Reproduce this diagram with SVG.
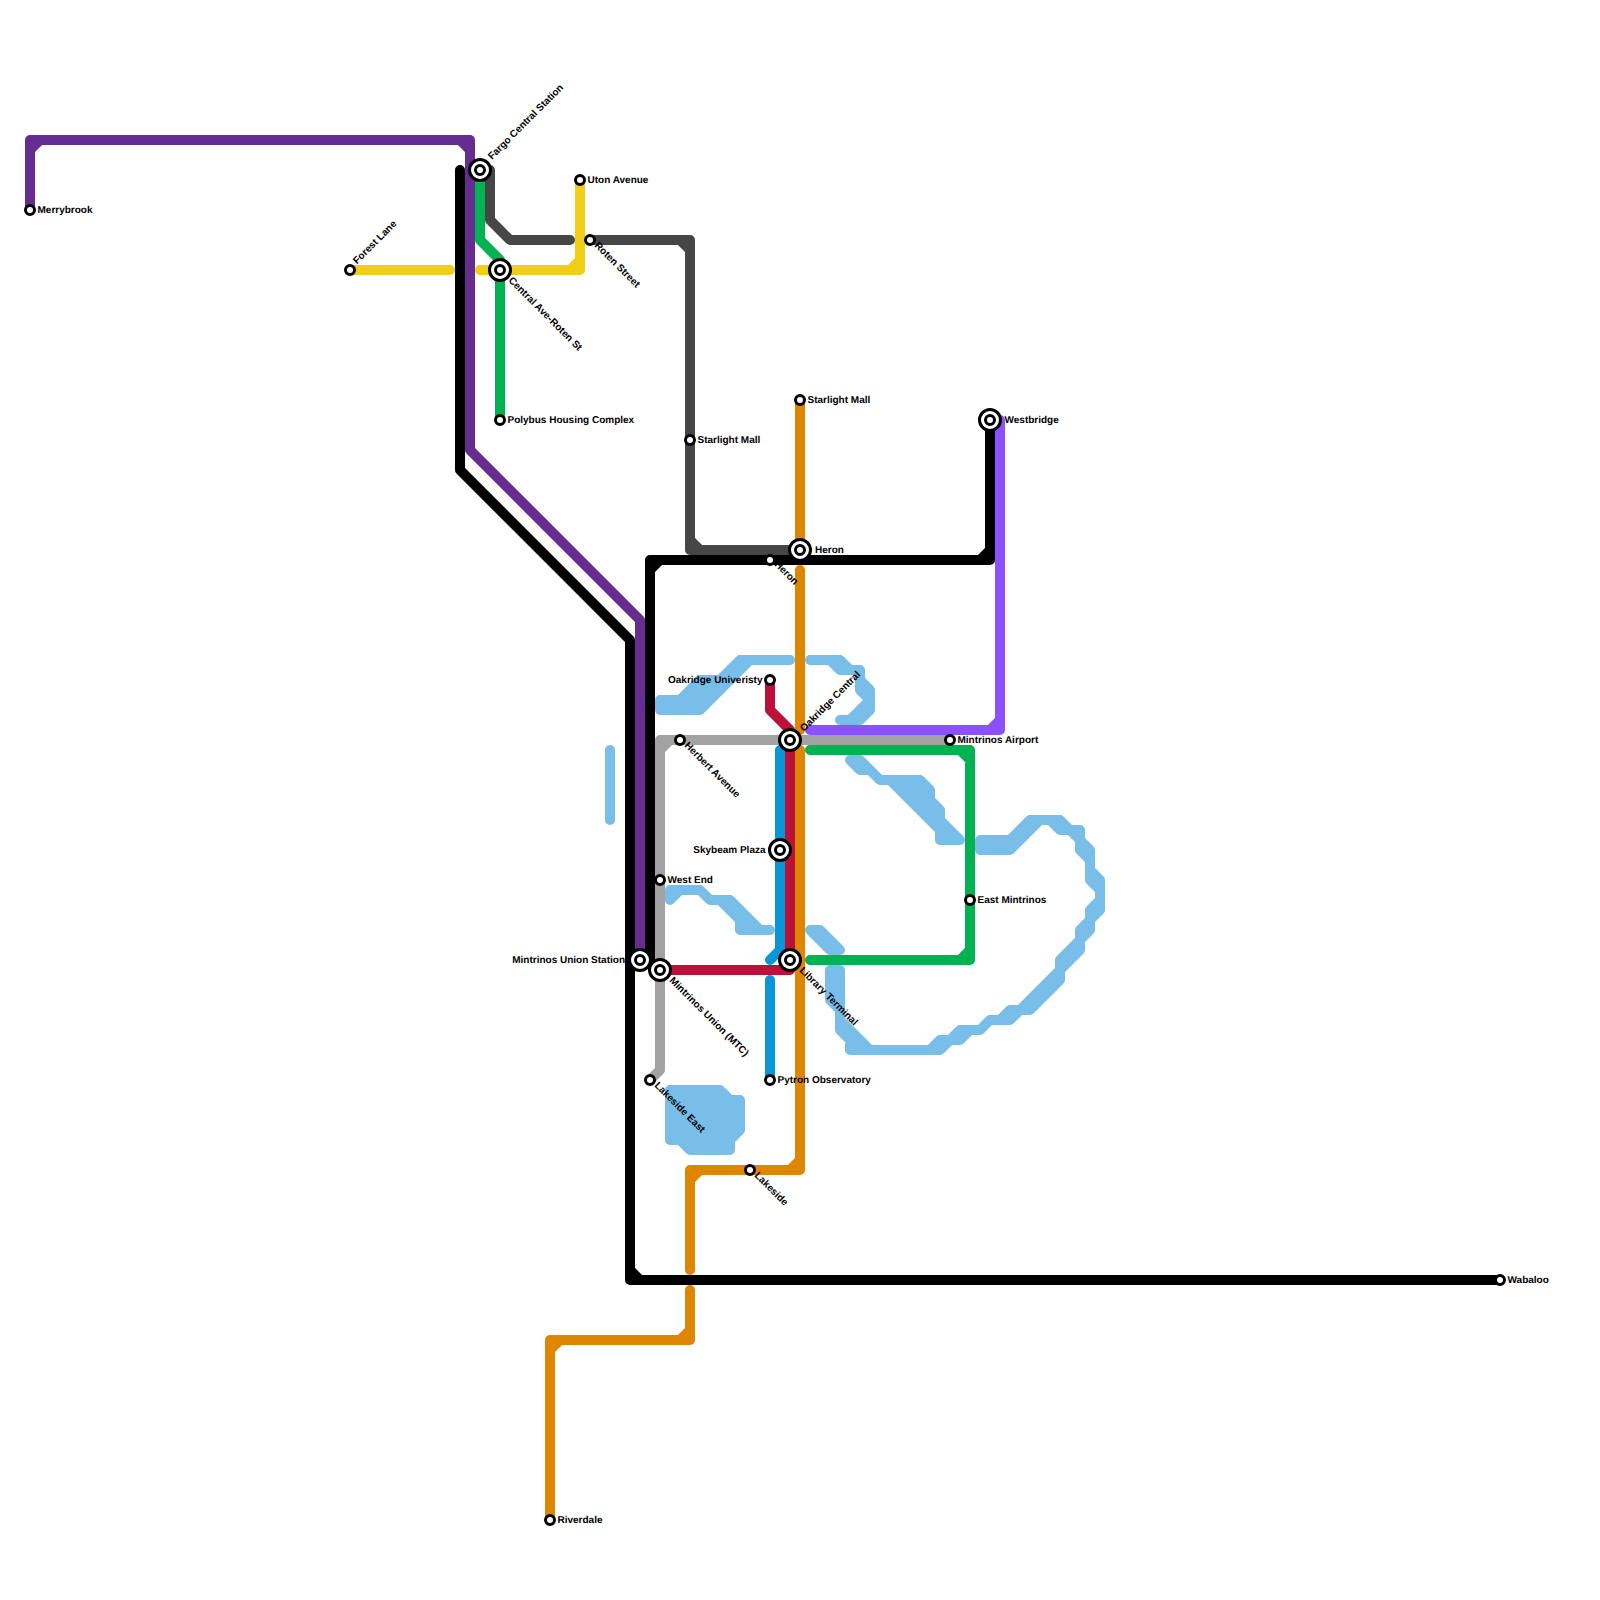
<svg xmlns="http://www.w3.org/2000/svg" width="1600" height="1600" viewBox="0 0 1600 1600">
<style>
.bg{fill:#fff}
.w{fill:#79BDE9;stroke:#79BDE9;stroke-width:10;stroke-linejoin:round;stroke-linecap:round}
.l{fill:none;stroke-width:10;stroke-linejoin:round;stroke-linecap:round}
.s{fill:#fff;stroke:#000;stroke-width:3}
.t{font-family:"Liberation Sans",Arial,sans-serif;font-weight:700;font-size:10px;fill:#000;text-rendering:geometricPrecision}
.e{text-anchor:end}
</style>
<defs>
<g id="small"><circle class="s" r="4.5"/></g>
<g id="big"><circle class="s" r="10.5"/><circle class="s" r="4.5"/></g>
</defs>
<rect class="bg" width="1600" height="1600"/>
<g id="water">
<path class="w" d="M610,750L610,820"/>
<path class="w" d="M660,700 680,700 700,680 720,680 740,660 790,660 750,660 700,710 660,710Z"/>
<path class="w" d="M810,660 840,660 850,670 860,670 860,680 870,690 870,710 860,720 840,720 850,720 870,700 860,690 860,670 840,670 830,660Z"/>
<path class="w" d="M850,760 860,760 880,780 920,780 930,790 930,800 940,810 940,820 960,840 940,840 940,830 890,780 880,780 870,770 860,770Z"/>
<path class="w" d="M980,840 1010,840 1030,820 1060,820 1070,830 1080,830 1080,840 1090,850 1090,870 1100,880 1100,910 1090,920 1090,930 1080,940 1080,950 1060,970 1060,980 1030,1010 1020,1010 1010,1020 990,1020 980,1030 970,1030 960,1040 950,1040 940,1050 850,1050 850,1040 840,1030 840,1010 830,1000 830,970 840,970 840,1020 870,1050 930,1050 940,1040 950,1040 960,1030 980,1030 990,1020 1000,1020 1010,1010 1020,1010 1060,970 1060,960 1080,940 1080,930 1090,920 1090,910 1100,900 1100,890 1090,880 1090,860 1080,850 1080,840 1070,830 1060,830 1050,820 1040,820 1010,850 980,850Z"/>
<path class="w" d="M670,900 670,890 700,890 710,900 730,900 760,930 770,930 740,930 740,920 720,900 710,900 700,890 680,890Z"/>
<path class="w" d="M810,930 820,930 840,950 830,950Z"/>
<path class="w" d="M670,1090 720,1090 730,1100 740,1100 740,1130 730,1140 730,1150 690,1150 680,1140 670,1140Z"/>
</g>
<g id="connectors">
<path class="l" stroke="#DF8600" d="M800,400V550M800,570V730M800,750V1170H690V1270M690,1290V1340H550V1520M790,1170L800,1160M690,1180L700,1170M680,1340L690,1330M550,1350L560,1340"/>
<path class="l" stroke="#000" d="M460,170V470L630,640V1280H1500M630,1270L640,1280"/>
<path class="l" stroke="#000" d="M990,420V560H650V960M650,570L660,560M980,560L990,550"/>
<path class="l" stroke="#662C90" d="M30,210V140H470V450L640,620V960M30,150L40,140M460,140L470,150"/>
<path class="l" stroke="#464646" d="M490,170V220L510,240H570M590,240H690V550H790M680,240L690,250M690,540L700,550"/>
<path class="l" stroke="#F0CE15" d="M350,270H450M480,270H580V180M570,270L580,260"/>
<path class="l" stroke="#00B251" d="M480,170V240L500,260V420"/>
<path class="l" stroke="#A2A2A2" d="M650,1080L660,1070V740H950M660,750L670,740"/>
<path class="l" stroke="#8B51FF" d="M810,730H1000V420M990,730L1000,720"/>
<path class="l" stroke="#00B251" d="M810,750H970V960H810M960,750L970,760M960,960L970,950"/>
<path class="l" stroke="#0896D7" d="M780,750V950L770,960M770,980V1080"/>
<path class="l" stroke="#BD1038" d="M770,680V710L790,730V970H660"/>
</g>
<g id="n-merrybrook"><use href="#small" x="30" y="210"/><text class="t" x="37.5" y="213">Merrybrook</text></g>
<g id="n-forest-lane"><use href="#small" x="350" y="270"/><text class="t" transform="translate(357 264.500) rotate(-45)">Forest Lane</text></g>
<g id="n-fargo"><use href="#big" x="480" y="170"/><text class="t" transform="translate(492 160) rotate(-45)">Fargo Central Station</text></g>
<g id="n-uton"><use href="#small" x="580" y="180"/><text class="t" x="587.5" y="183">Uton Avenue</text></g>
<g id="n-roten"><use href="#small" x="590" y="240"/><text class="t" transform="translate(594 246) rotate(45)">Roten Street</text></g>
<g id="n-central"><use href="#big" x="500" y="270"/><text class="t" transform="translate(508 281) rotate(45)">Central Ave-Roten St</text></g>
<g id="n-polybus"><use href="#small" x="500" y="420"/><text class="t" x="507.5" y="423">Polybus Housing Complex</text></g>
<g id="n-starlight-g"><use href="#small" x="690" y="440"/><text class="t" x="697.5" y="443">Starlight Mall</text></g>
<g id="n-starlight-o"><use href="#small" x="800" y="400"/><text class="t" x="807.5" y="403">Starlight Mall</text></g>
<g id="n-westbridge"><use href="#big" x="990" y="420"/><text class="t" x="1004.5" y="423">Westbridge</text></g>
<g id="n-heron-big"><use href="#big" x="800" y="550"/><text class="t" x="815" y="553">Heron</text></g>
<g id="n-heron-small"><use href="#small" x="770" y="560"/><text class="t" transform="translate(774 565) rotate(45)">Heron</text></g>
<g id="n-oakridge-u"><use href="#small" x="770" y="680"/><text class="t e" x="762.5" y="683">Oakridge Univeristy</text></g>
<g id="n-oakridge-c"><use href="#big" x="790" y="740"/><text class="t" transform="translate(804 732) rotate(-45)">Oakridge Central</text></g>
<g id="n-herbert"><use href="#small" x="680" y="740"/><text class="t" transform="translate(684 746) rotate(45)">Herbert Avenue</text></g>
<g id="n-airport"><use href="#small" x="950" y="740"/><text class="t" x="957.5" y="743">Mintrinos Airport</text></g>
<g id="n-skybeam"><use href="#big" x="780" y="850"/><text class="t e" x="765.5" y="853">Skybeam Plaza</text></g>
<g id="n-west-end"><use href="#small" x="660" y="880"/><text class="t" x="667.5" y="883">West End</text></g>
<g id="n-east-mintrinos"><use href="#small" x="970" y="900"/><text class="t" x="977.5" y="903">East Mintrinos</text></g>
<g id="n-union"><use href="#big" x="640" y="960"/><text class="t e" x="625" y="963">Mintrinos Union Station</text></g>
<g id="n-union-mtc"><use href="#big" x="660" y="970"/><text class="t" transform="translate(669 981) rotate(45)">Mintrinos Union (MTC)</text></g>
<g id="n-library"><use href="#big" x="790" y="960"/><text class="t" transform="translate(799 971) rotate(45)">Library Terminal</text></g>
<g id="n-lakeside-east"><use href="#small" x="650" y="1080"/><text class="t" transform="translate(654 1086) rotate(45)">Lakeside East</text></g>
<g id="n-pytron"><use href="#small" x="770" y="1080"/><text class="t" x="777.5" y="1083">Pytron Observatory</text></g>
<g id="n-lakeside"><use href="#small" x="750" y="1170"/><text class="t" transform="translate(754 1176) rotate(45)">Lakeside</text></g>
<g id="n-wabaloo"><use href="#small" x="1500" y="1280"/><text class="t" x="1507.5" y="1283">Wabaloo</text></g>
<g id="n-riverdale"><use href="#small" x="550" y="1520"/><text class="t" x="557.5" y="1523">Riverdale</text></g>
</svg>
